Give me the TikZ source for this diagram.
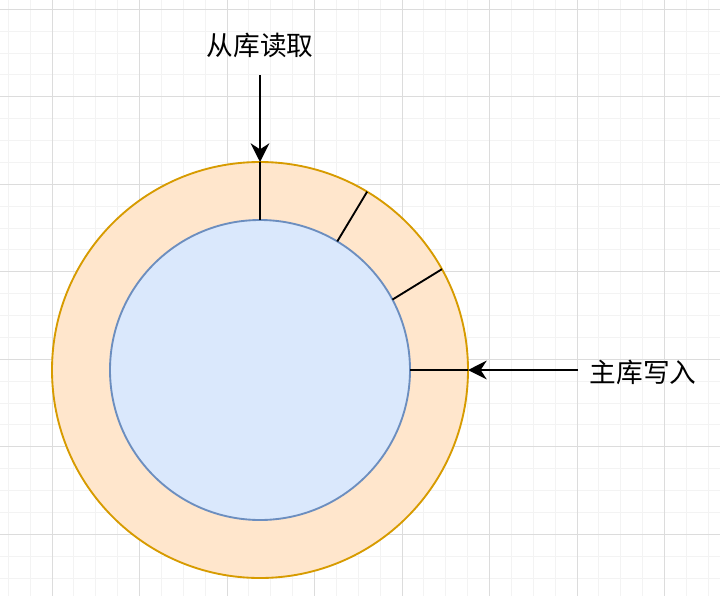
\documentclass[tikz,border=0pt]{standalone}
\usepackage{fontspec}
\newfontfamily\cjk{Noto Sans CJK SC}
\usetikzlibrary{arrows.meta}
\definecolor{outerfill}{HTML}{FFE6CC}
\definecolor{outerdraw}{HTML}{D79B00}
\definecolor{innerfill}{HTML}{DAE8FC}
\definecolor{innerdraw}{HTML}{6C8EBF}
\definecolor{gridmajor}{HTML}{DCDCDC}
\definecolor{gridminor}{HTML}{F3F3F3}
\tikzset{
  gridminorline/.style={draw=gridminor, line width=0.75pt},
  gridmajorline/.style={draw=gridmajor, line width=0.75pt},
  ring/.style={circle, inner sep=0pt, outer sep=0pt, line width=1.4pt},
  tick/.style={draw=black, line width=1.4pt},
  arr/.style={draw=black, line width=1.4pt, -{Stealth[length=14pt, width=14pt, inset=4.5pt]}},
  lbl/.style={inner sep=0pt, font=\cjk\fontsize{20pt}{24pt}\selectfont, text=black}
}
\begin{document}
\begin{tikzpicture}[x=0.75pt,y=-0.75pt]
\useasboundingbox (0,0) rectangle (720,596);
\fill[white] (0,0) rectangle (720,596);
% grid
\foreach \i in {0,...,32} {
  \pgfmathsetmacro\xx{8.3+21.875*\i}
  \draw[gridminorline] (\xx,0) -- (\xx,596);
}
\foreach \i in {0,...,26} {
  \pgfmathsetmacro\yy{9.3+21.875*\i}
  \draw[gridminorline] (0,\yy) -- (720,\yy);
}
\foreach \i in {0,...,7} {
  \pgfmathsetmacro\xx{52.05+87.5*\i}
  \draw[gridmajorline] (\xx,0) -- (\xx,596);
}
\foreach \i in {0,...,6} {
  \pgfmathsetmacro\yy{9.3+87.5*\i}
  \draw[gridmajorline] (0,\yy) -- (720,\yy);
}
% circles
\node (outer) [ring, draw=outerdraw, fill=outerfill, minimum size=312pt] at (260,370) {};
\node (inner) [ring, draw=innerdraw, fill=innerfill, minimum size=225pt] at (260,370) {};
% radial ticks
\draw[tick] (inner.90) -- (outer.90);
\draw[tick] (inner.59) -- (outer.59);
\draw[tick] (inner.28) -- (outer.29.5);
\draw[tick] (inner.0) -- (outer.0);
% labels and arrows
\node (read) [lbl] at (260,45) {从库读取};
\node (write) [lbl] at (643,372) {主库写入};
\coordinate (readstart) at (260,75);
\coordinate (writestart) at (578,370);
\draw[arr] (readstart) -- (outer.90);
\draw[arr] (writestart) -- (outer.0);
\end{tikzpicture}
\end{document}
